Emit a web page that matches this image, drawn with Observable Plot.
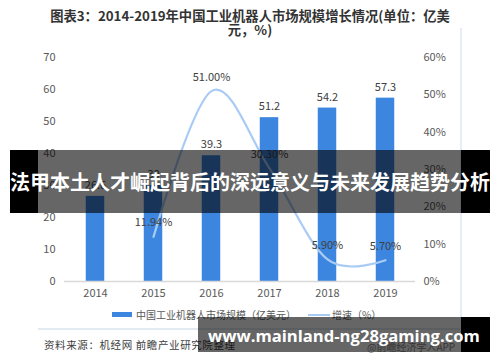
<!DOCTYPE html>
<html>
<head>
<meta charset="utf-8">
<script src="https://cdn.jsdelivr.net/npm/d3@7"></script>
<script src="https://cdn.jsdelivr.net/npm/@observablehq/plot@0.6"></script>
<style>
  html, body { margin: 0; padding: 0; background: #fff; }
  #wrap { position: relative; width: 500px; height: 362px; overflow: hidden; font-family: "Noto Sans CJK SC", "Open Sans", sans-serif; }
  .abs { position: absolute; white-space: nowrap; }
  #title { left: 0; top: 9px; width: 500px; text-align: center; font-size: 13.3px; font-weight: bold; line-height: 14px; color: #333; }
  #chart { position: absolute; left: 0; top: 0; }
</style>
</head>
<body>
<div id="wrap">
  <div id="title" class="abs"></div>
  <div id="chart"></div>
  <div class="abs" style="left:460px;top:28px;width:1.5px;height:290px;background:#e6edf5;"></div>
  <div class="abs" style="left:38px;top:328px;width:422px;height:1.5px;background:#e3eaf2;"></div>
  <div id="legend"></div>
  <div id="source" class="abs" style="left:44px;top:339px;font-size:10.5px;line-height:12px;color:#404040;letter-spacing:0.6px;"></div>
  <div id="brand" class="abs" style="left:367px;top:341px;font-size:10px;line-height:12px;color:#888;"></div>
  <div id="banner1"></div>
  <div id="banner2"></div>
</div>
<script>
const titleLines = ["图表3：2014-2019年中国工业机器人市场规模增长情况(单位：亿美", "元，%)"];
const years = ["2014", "2015", "2016", "2017", "2018", "2019"];
const marketSize = [26.6, 30, 39.3, 51.2, 54.2, 57.3];
const marketLabels = ["26.6", "30", "39.3", "51.2", "54.2", "57.3"];
const growthYears = ["2015", "2016", "2017", "2018", "2019"];
const growthRate = [11.94, 51.00, 30.30, 5.90, 5.70];
const leftTicks = [0, 10, 20, 30, 40, 50, 60, 70];
const rightTicks = [0, 10, 20, 30, 40, 50, 60];
const seriesNames = ["中国工业机器人市场规模（亿美元）", "增速（%）"];
const sourceText = "资料来源：机经网 前瞻产业研究院整理";
const brandText = "@前瞻经济学人APP";
const bannerText = "法甲本土人才崛起背后的深远意义与未来发展趋势分析";
const urlText = "www.mainland-ng28gaming.com";

const leftMax = 70, rightMax = 60;
const k = leftMax / rightMax;
const barColor = "#3d86df";
const lineColor = "#a8cbf5";

document.getElementById("title").innerHTML = titleLines.join("<br>");

const sizeData = years.map((y, i) => ({year: y, value: marketSize[i], label: marketLabels[i]}));
const rateData = growthYears.map((y, i) => ({year: y, rate: growthRate[i], label: growthRate[i].toFixed(2) + "%"}));

const chart = Plot.plot({
  width: 500,
  height: 300,
  marginTop: 57,
  marginBottom: 19,
  marginLeft: 64,
  marginRight: 85,
  style: {fontFamily: "'Noto Sans CJK SC', 'Open Sans', sans-serif", fontSize: "11px", color: "#595959", background: "transparent", overflow: "visible"},
  x: {type: "band", domain: years, padding: 0},
  y: {domain: [0, leftMax]},
  marks: [
    Plot.axisY({ticks: leftTicks, tickSize: 0, tickPadding: 9, label: null}),
    Plot.axisY({anchor: "right", ticks: rightTicks.map(v => v * k), tickSize: 0, tickPadding: 8, tickFormat: d => Math.round(d / k) + "%", label: null}),
    Plot.axisX({tickSize: 0, tickPadding: 8, label: null}),
    Plot.barY(sizeData, {x: "year", y: "value", fill: barColor, insetLeft: 19.75, insetRight: 19.75}),
    Plot.ruleY([0], {stroke: "#d9d9d9", strokeWidth: 1.5}),
    Plot.text(sizeData, {x: "year", y: "value", text: "label", dy: -11, fill: "#404040"}),
    Plot.line(rateData, {x: "year", y: d => d.rate * k, stroke: lineColor, strokeWidth: 2.2, curve: "cardinal"}),
    Plot.text(rateData, {x: "year", y: d => d.rate * k, text: "label", dy: -14, fill: "#404040"})
  ]
});
document.getElementById("chart").appendChild(chart);

// legend
const legend = document.getElementById("legend");
legend.innerHTML =
  `<div class="abs" style="left:112px;top:312px;width:20px;height:5px;background:${barColor};"></div>` +
  `<div class="abs" style="left:136px;top:308px;font-size:10px;line-height:13px;color:#595959;">${seriesNames[0]}</div>` +
  `<div class="abs" style="left:308px;top:314px;width:22px;height:2px;background:${lineColor};"></div>` +
  `<div class="abs" style="left:332px;top:308px;font-size:10px;line-height:13px;color:#595959;">${seriesNames[1]}</div>`;

document.getElementById("source").textContent = sourceText;
document.getElementById("brand").textContent = brandText;

// overlay banners
document.getElementById("banner1").innerHTML =
  `<div class="abs" style="left:10px;top:150px;width:28px;height:63px;background:#000;"></div>` +
  `<div class="abs" style="left:38px;top:150px;width:423px;height:63px;background:rgba(0,0,0,0.6);"></div>` +
  `<div class="abs" style="left:461px;top:150px;width:29px;height:63px;background:#000;"></div>` +
  `<div class="abs" style="left:10px;top:150px;width:480px;height:63px;line-height:63px;text-align:center;color:#fff;font-weight:bold;font-size:20px;font-family:'Noto Sans CJK SC',sans-serif;">${bannerText}</div>`;

document.getElementById("banner2").innerHTML =
  `<div class="abs" style="left:198px;top:317px;width:263px;height:35px;background:rgba(0,0,0,0.6);"></div>` +
  `<div class="abs" style="left:461px;top:317px;width:29px;height:35px;background:#000;"></div>` +
  `<div id="url" class="abs" style="left:208px;top:317px;height:38px;line-height:38px;color:#fff;font-weight:bold;font-size:19px;font-family:'Open Sans',sans-serif;">${urlText}</div>`;

// fit the url text to the reference width (about 272px)
const urlEl = document.getElementById("url");
const w = urlEl.getBoundingClientRect().width;
if (w > 0) urlEl.style.fontSize = (19 * 272 / w).toFixed(2) + "px";
</script>
</body>
</html>
